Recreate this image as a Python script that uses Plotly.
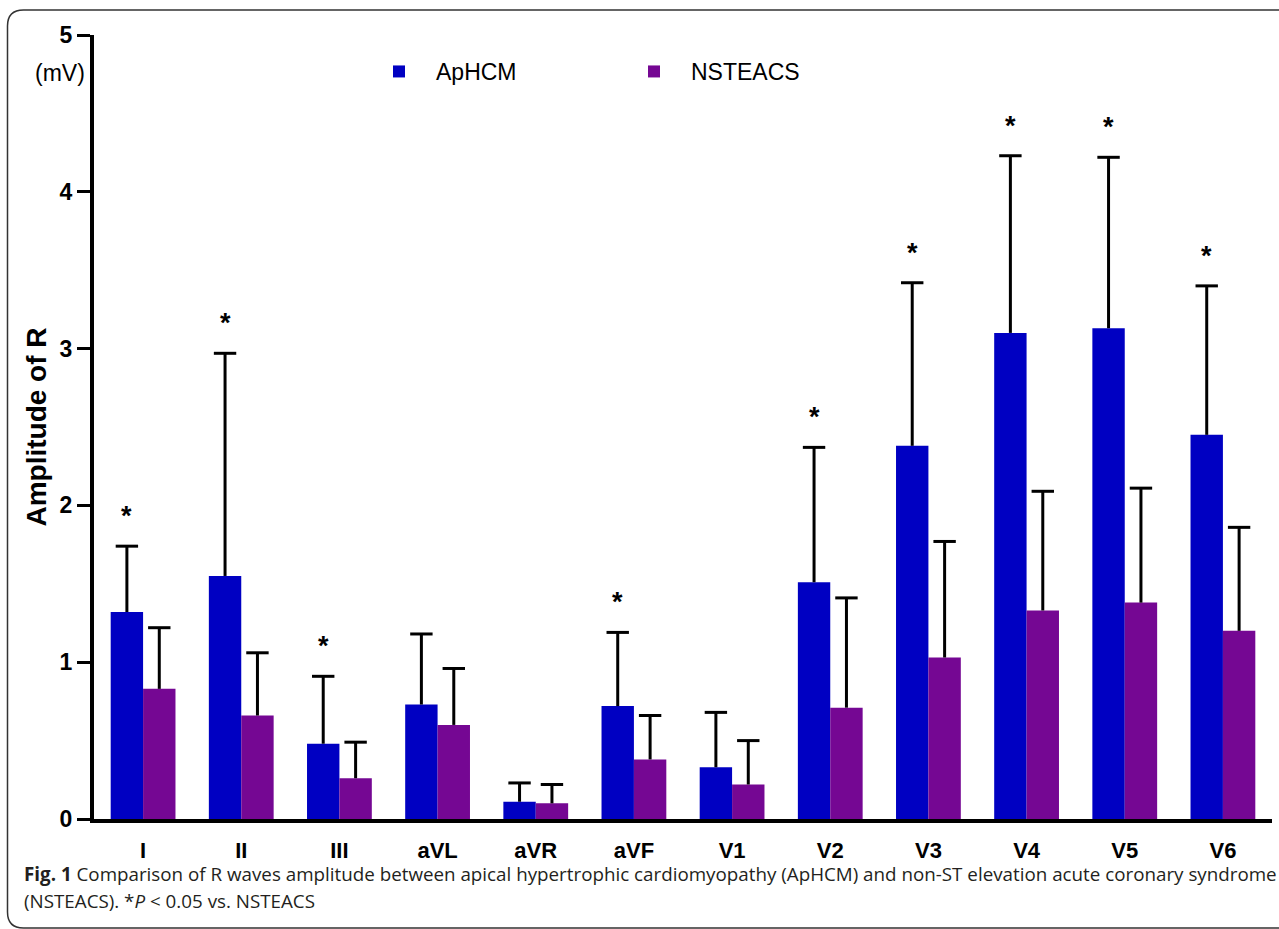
import plotly.graph_objects as go
import numpy as np

# ---- data ----
leads = ["I", "II", "III", "aVL", "aVR", "aVF", "V1", "V2", "V3", "V4", "V5", "V6"]
aphcm_mean = [1.32, 1.55, 0.48, 0.73, 0.11, 0.72, 0.33, 1.51, 2.38, 3.10, 3.13, 2.45]
aphcm_sd   = [0.42, 1.42, 0.43, 0.45, 0.12, 0.47, 0.35, 0.86, 1.04, 1.13, 1.09, 0.95]
nsteacs_mean = [0.83, 0.66, 0.26, 0.60, 0.10, 0.38, 0.22, 0.71, 1.03, 1.33, 1.38, 1.20]
nsteacs_sd   = [0.39, 0.40, 0.23, 0.36, 0.12, 0.28, 0.28, 0.70, 0.74, 0.76, 0.73, 0.66]
significant = [True, True, True, False, False, True, False, True, True, True, True, True]
y_ticks = [0, 1, 2, 3, 4, 5]

BLUE = "#0000C2"
PURPLE = "#750793"
FONT = "Liberation Sans, Arial, sans-serif"

idx = np.arange(len(leads))
bw = 0.33
x_ap = idx - bw / 2
x_ns = idx + bw / 2
ap_top = np.array(aphcm_mean) + np.array(aphcm_sd)
ns_top = np.array(nsteacs_mean) + np.array(nsteacs_sd)

fig = go.Figure()
fig.add_trace(go.Bar(x=idx, y=aphcm_mean, name="ApHCM", width=bw, offset=-bw,
                     marker=dict(color=BLUE, line=dict(width=0))))
fig.add_trace(go.Bar(x=idx, y=nsteacs_mean, name="NSTEACS", width=bw, offset=0,
                     marker=dict(color=PURPLE, line=dict(width=0))))

# one-sided error bars (upper only) with a cap at the top
for xs, tops, sds in [(x_ap, ap_top, aphcm_sd), (x_ns, ns_top, nsteacs_sd)]:
    fig.add_trace(go.Scatter(
        x=xs, y=tops, mode="markers", showlegend=False, hoverinfo="skip",
        marker=dict(symbol="line-ew", size=16, line=dict(width=3, color="black")),
        error_y=dict(type="data", symmetric=False, array=[0] * len(sds), arrayminus=sds,
                     width=0, thickness=3, color="black"),
    ))

# significance asterisks
for i, s in enumerate(significant):
    if s:
        fig.add_annotation(x=x_ap[i], y=ap_top[i], text="<b>*</b>", showarrow=False,
                           yanchor="bottom", yshift=13,
                           font=dict(family=FONT, size=27, color="black"))

# (mV) unit label
fig.add_annotation(xref="paper", yref="paper", x=-0.006, y=0.951, text="(mV)",
                   showarrow=False, xanchor="right", yanchor="middle",
                   font=dict(family=FONT, size=23, color="black"))

# caption
cap_font = dict(family="Open Sans, sans-serif", size=18.8, color="#231f20")
fig.add_annotation(xref="paper", yref="paper", x=-0.0611, y=-0.0702, xanchor="left", yanchor="middle",
                   showarrow=False, font=cap_font,
                   text="<b>Fig. 1</b> Comparison of R waves amplitude between apical hypertrophic cardiomyopathy (ApHCM) and non-ST elevation acute coronary syndrome")
fig.add_annotation(xref="paper", yref="paper", x=-0.0611, y=-0.1046, xanchor="left", yanchor="middle",
                   showarrow=False, font=cap_font,
                   text="(NSTEACS). *<i>P</i> &lt; 0.05 vs. NSTEACS")

# frame (rounded top-left and bottom-left corners, right and bottom cropped)
x0 = (7.5 - 94) / 1178
x1 = (1300 - 94) / 1178
yt = (819 - 10) / 784
yb = (819 - 928) / 784
rx = 16 / 1178
ry = 16 / 784
fig.add_shape(type="path", xref="paper", yref="paper",
              path=f"M {x1},{yt} L {x0+rx},{yt} Q {x0},{yt} {x0},{yt-ry} L {x0},{yb+ry} Q {x0},{yb} {x0+rx},{yb} L {x1},{yb}",
              line=dict(color="#333333", width=1.5))

fig.update_layout(
    width=1279, height=929,
    margin=dict(l=94, r=7, t=35, b=110, autoexpand=False),
    plot_bgcolor="white", paper_bgcolor="white",
    barmode="overlay",
    showlegend=True,
    legend=dict(orientation="h", xref="paper", yref="paper",
                x=(362 - 94) / 1178, y=(819 - 50) / 784, xanchor="left", yanchor="top",
                font=dict(family=FONT, size=23, color="black"),
                itemwidth=64, entrywidth=176, entrywidthmode="pixels",
                bgcolor="rgba(0,0,0,0)", itemclick=False, itemdoubleclick=False),
    xaxis=dict(range=[-0.5, len(leads) - 0.5], tickmode="array", tickvals=idx, ticktext=leads,
               showline=True, linecolor="black", linewidth=4, ticks="", showgrid=False,
               zeroline=False, ticklabelstandoff=9,
               tickfont=dict(family=FONT, size=22, color="black", weight="bold"),
               fixedrange=True),
    yaxis=dict(range=[0, 5], tickmode="array", tickvals=y_ticks, ticktext=[str(t) for t in y_ticks],
               showline=True, linecolor="black", linewidth=4, ticks="outside", ticklen=13,
               tickwidth=3, tickcolor="black", showgrid=False, zeroline=False,
               tickfont=dict(family=FONT, size=23, color="black", weight="bold"),
               title=dict(text="<b>Amplitude of R</b>", standoff=6,
                          font=dict(family=FONT, size=28, color="black")),
               fixedrange=True),
)

fig.write_html("out.html", config={"displayModeBar": False},
               post_script="document.body.style.margin='0';document.body.style.overflow='hidden';")
